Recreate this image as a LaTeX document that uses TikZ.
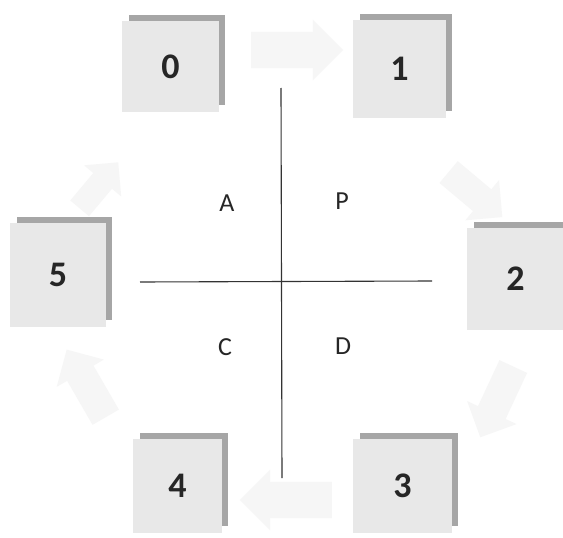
\documentclass[tikz,border=0pt]{standalone}
\usepackage{fontspec}
\setmainfont{Carlito}
\usetikzlibrary{shapes.arrows}
\definecolor{boxfill}{HTML}{E8E8E8}
\definecolor{boxshadow}{HTML}{A6A6A6}
\definecolor{faint}{HTML}{F6F6F6}
\tikzset{
  numtext/.style={font=\fontsize{36}{36}\selectfont\bfseries, text=black!85},
  lettertext/.style={font=\fontsize{26}{26}\selectfont, text=black!85},
  axisline/.style={draw=black!80, line width=1.1pt},
  faintarrow/.style={single arrow, fill=faint, draw=none, minimum height=92pt, inner sep=18pt, single arrow head extend=12pt},
}
% box: #1 name, #2 left, #3 top, #4 right, #5 bottom
\newcommand{\shadowbox}[6]{%
  \fill[boxshadow] (#2+7,#3) rectangle (#4,#5-7);
  \fill[boxfill] (#2,#3+6) rectangle (#4-6,#5);
  \node[numtext] (#1) at ({(#2+#4)/2-3},{(#3+#5)/2+3}) {#6};
}
\begin{document}
\begin{tikzpicture}[x=1pt,y=-1pt]
\useasboundingbox (0,0) rectangle (563,538);
\fill[white] (0,0) rectangle (563,538);
% faint cycle arrows
\node[faintarrow] (a01) at (288,50) {};
\node[faintarrow, rotate=-40, minimum height=70pt, inner sep=14pt] (a12) at (470,190) {};
\node[faintarrow, rotate=-115, minimum height=78pt, inner sep=15pt] (a23) at (500,395) {};
\node[faintarrow, rotate=180] (a34) at (295,500) {};
\node[faintarrow, rotate=120, minimum height=78pt, inner sep=15pt] (a45) at (90,390) {};
\node[faintarrow, rotate=50, minimum height=60pt, inner sep=12pt] (a50) at (95,190) {};
% boxes
\shadowbox{n0}{122}{15}{225}{112}{0}
\shadowbox{n1}{353}{14}{452}{118}{1}
\shadowbox{n2}{467}{222}{570}{330}{2}
\shadowbox{n5}{10}{217}{112}{327}{5}
\shadowbox{n4}{133}{433}{228}{533}{4}
\shadowbox{n3}{353}{433}{458}{533}{3}
% cross
\coordinate (vtop) at (281,88);
\coordinate (vbot) at (282,478);
\coordinate (hleft) at (140,282);
\coordinate (hright) at (432,281);
\draw[axisline] (vtop) -- (vbot);
\draw[axisline] (hleft) -- (hright);
% quadrant labels
\node[lettertext] (lA) at (227,203) {A};
\node[lettertext] (lP) at (342,201) {P};
\node[lettertext] (lC) at (225,347) {C};
\node[lettertext] (lD) at (343,346) {D};
\end{tikzpicture}
\end{document}
